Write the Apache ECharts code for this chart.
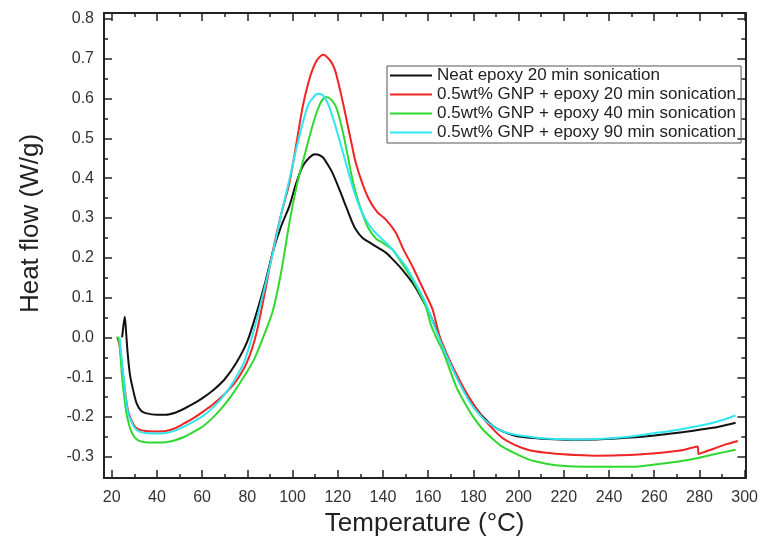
<!DOCTYPE html>
<html>
<head>
<meta charset="utf-8">
<script src="https://cdn.jsdelivr.net/npm/echarts@6/dist/echarts.min.js"></script>
<style>
html,body{margin:0;padding:0;background:#fff;}
#chart{width:761px;height:542px;}
</style>
</head>
<body>
<div id="chart"></div>
<script>
// ---- data ----
const seriesNames = [
  'Neat epoxy 20 min sonication',
  '0.5wt% GNP + epoxy 20 min sonication',
  '0.5wt% GNP + epoxy 40 min sonication',
  '0.5wt% GNP + epoxy 90 min sonication'
];
const xTicks = [20,40,60,80,100,120,140,160,180,200,220,240,260,280,300];
const yTicks = [-0.3,-0.2,-0.1,0.0,0.1,0.2,0.3,0.4,0.5,0.6,0.7,0.8];

const neat20 = [[24.6,0.0],[25.2,0.03],[25.8,0.052],[26.3,0.02],[27.0,-0.035],[28.0,-0.09],[29.2,-0.125],[31.0,-0.165],[33.0,-0.184],[35.0,-0.19],[40.0,-0.194],[44.0,-0.194],[48.0,-0.189],[52.0,-0.179],[56.0,-0.167],[60.0,-0.153],[65.0,-0.132],[70.0,-0.105],[75.0,-0.065],[80.0,-0.01],[84.0,0.06],[88.0,0.14],[91.2,0.213],[95.0,0.28],[98.6,0.33],[101.5,0.385],[104.5,0.43],[107.5,0.452],[110.0,0.46],[111.5,0.459],[113.5,0.452],[115.5,0.435],[117.6,0.414],[120.5,0.375],[123.6,0.33],[126.0,0.295],[128.0,0.271],[131.0,0.25],[135.4,0.234],[141.3,0.213],[144.0,0.198],[147.2,0.179],[150.0,0.16],[153.0,0.138],[156.5,0.105],[160.4,0.063],[165.0,0.0],[169.0,-0.055],[172.3,-0.095],[176.0,-0.135],[179.6,-0.165],[184.0,-0.198],[188.8,-0.223],[193.0,-0.236],[198.0,-0.246],[205.0,-0.252],[212.7,-0.255],[222.0,-0.257],[234.7,-0.256],[245.0,-0.253],[253.0,-0.25],[262.0,-0.245],[271.4,-0.239],[280.0,-0.232],[286.0,-0.227],[291.0,-0.221],[296.0,-0.214]];

const gnp20 = [[22.5,0.0],[23.5,-0.02],[24.5,-0.07],[25.5,-0.113],[26.5,-0.16],[27.5,-0.19],[28.5,-0.205],[30.0,-0.222],[32.0,-0.231],[35.0,-0.235],[40.0,-0.236],[44.0,-0.235],[48.0,-0.228],[52.0,-0.216],[56.0,-0.203],[60.0,-0.188],[65.0,-0.167],[70.0,-0.142],[75.0,-0.11],[80.0,-0.06],[84.0,0.01],[88.0,0.12],[91.2,0.215],[95.0,0.31],[98.6,0.388],[101.5,0.48],[104.5,0.58],[107.0,0.64],[109.0,0.675],[111.0,0.698],[113.7,0.71],[116.0,0.7],[117.8,0.685],[119.2,0.664],[121.5,0.61],[123.6,0.555],[126.0,0.49],[128.0,0.438],[131.0,0.385],[133.9,0.346],[137.5,0.315],[141.3,0.296],[145.7,0.263],[149.0,0.222],[153.0,0.179],[157.5,0.125],[161.9,0.071],[165.0,0.004],[168.5,-0.045],[172.3,-0.09],[176.0,-0.13],[179.6,-0.164],[184.0,-0.2],[188.8,-0.231],[193.0,-0.253],[198.0,-0.269],[203.0,-0.28],[207.2,-0.286],[216.3,-0.292],[225.0,-0.295],[234.7,-0.297],[245.0,-0.296],[253.0,-0.294],[262.0,-0.29],[271.4,-0.284],[276.7,-0.277],[279.2,-0.274],[279.6,-0.293],[281.0,-0.29],[284.0,-0.284],[288.0,-0.276],[292.0,-0.268],[297.0,-0.26]];

const gnp40 = [[22.1,0.0],[23.0,0.0],[23.8,-0.04],[24.6,-0.1],[25.5,-0.147],[26.5,-0.19],[27.5,-0.215],[28.3,-0.231],[30.0,-0.25],[32.0,-0.259],[35.0,-0.263],[40.0,-0.264],[44.0,-0.263],[48.0,-0.258],[52.0,-0.25],[56.0,-0.238],[60.4,-0.223],[65.0,-0.2],[69.5,-0.172],[74.0,-0.138],[78.7,-0.097],[83.0,-0.055],[87.0,0.0],[91.2,0.065],[95.0,0.165],[98.6,0.288],[102.0,0.385],[106.0,0.472],[109.0,0.535],[111.1,0.572],[113.0,0.595],[115.0,0.604],[117.0,0.598],[119.2,0.58],[121.5,0.535],[123.6,0.48],[126.0,0.41],[128.0,0.363],[131.0,0.31],[133.9,0.271],[137.0,0.248],[139.8,0.238],[144.2,0.221],[148.5,0.185],[153.0,0.146],[158.9,0.079],[161.3,0.03],[164.0,-0.005],[166.8,-0.038],[169.5,-0.08],[172.3,-0.122],[176.0,-0.163],[179.6,-0.197],[184.0,-0.23],[188.8,-0.256],[193.0,-0.275],[198.0,-0.29],[203.0,-0.303],[207.2,-0.311],[216.3,-0.321],[225.0,-0.324],[234.7,-0.325],[245.0,-0.325],[253.0,-0.324],[262.0,-0.318],[271.4,-0.311],[280.0,-0.302],[286.0,-0.294],[291.0,-0.288],[296.0,-0.282]];

const gnp90 = [[23.5,0.0],[24.2,-0.04],[25.0,-0.085],[25.5,-0.113],[26.5,-0.165],[27.5,-0.195],[28.3,-0.206],[30.0,-0.226],[32.0,-0.236],[35.0,-0.24],[40.0,-0.241],[44.0,-0.24],[48.0,-0.234],[52.0,-0.224],[56.0,-0.212],[60.4,-0.197],[65.0,-0.175],[69.5,-0.147],[74.0,-0.11],[78.7,-0.06],[83.0,0.02],[87.0,0.11],[91.2,0.21],[95.0,0.31],[98.6,0.396],[101.5,0.47],[104.5,0.539],[107.0,0.585],[108.9,0.601],[111.0,0.612],[113.0,0.61],[114.5,0.6],[116.2,0.58],[118.5,0.54],[120.7,0.497],[123.5,0.44],[126.5,0.38],[129.5,0.33],[132.4,0.296],[135.5,0.27],[138.3,0.254],[141.0,0.24],[144.2,0.221],[147.2,0.2],[150.1,0.179],[154.5,0.135],[158.9,0.087],[162.0,0.04],[165.0,-0.004],[168.5,-0.05],[172.3,-0.097],[176.0,-0.138],[179.6,-0.172],[184.0,-0.202],[188.8,-0.223],[193.0,-0.236],[198.0,-0.244],[207.0,-0.251],[216.3,-0.255],[225.0,-0.256],[234.7,-0.255],[245.0,-0.251],[253.0,-0.246],[262.0,-0.239],[271.4,-0.231],[280.0,-0.222],[286.0,-0.214],[291.0,-0.206],[296.0,-0.196]];

// ---- layout / style ----
const colors = ['#111111', '#f02424', '#2fd82f', '#2fe6ee'];
const seriesData = [neat20, gnp20, gnp40, gnp90];
const xMin = 16.6, xMax = 300.3, yMin = -0.353, yMax = 0.815;
const xMinor = xTicks.slice(0, -1).map(v => v + 10);
const yMinor = yTicks.slice(0, -1).map(v => Math.round((v + 0.05) * 100) / 100);
const FONT = '"Liberation Sans", Arial, sans-serif';
const frame = '#222';
const lineIcon = 'path://M0,0L0.01,0L0.01,0.01L0,0.01Z M0,6.5L42,6.5L42,8.5L0,8.5Z M0,14.99L0.01,14.99L0.01,15L0,15Z';

function xAx(pos, vals, len, showLine, showLabel) {
  return {
    type: 'value', min: xMin, max: xMax, position: pos,
    axisLine: {show: showLine, onZero: false, lineStyle: {color: frame, width: 2}},
    axisTick: {show: true, inside: true, length: len, customValues: vals, lineStyle: {color: frame, width: 1.5}},
    axisLabel: showLabel ? {customValues: vals, margin: 12, fontSize: 16, color: '#333', fontFamily: FONT} : {show: false},
    splitLine: {show: false},
    name: showLabel ? 'Temperature (°C)' : '',
    nameLocation: 'middle', nameGap: 33,
    nameTextStyle: {fontSize: 26, color: '#222', fontFamily: FONT}
  };
}
function yAx(pos, vals, len, showLine, showLabel) {
  return {
    type: 'value', min: yMin, max: yMax, position: pos,
    axisLine: {show: showLine, onZero: false, lineStyle: {color: frame, width: 2}},
    axisTick: {show: true, inside: true, length: len, customValues: vals, lineStyle: {color: frame, width: 1.5}},
    axisLabel: showLabel ? {customValues: vals, margin: 10, fontSize: 16, color: '#333', fontFamily: FONT,
      formatter: v => v.toFixed(1)} : {show: false},
    splitLine: {show: false},
    name: showLabel ? 'Heat flow (W/g)' : '',
    nameLocation: 'middle', nameGap: 60, nameRotate: 90,
    nameTextStyle: {fontSize: 26, color: '#222', fontFamily: FONT, padding: [0, 0, 0, 44]}
  };
}

const chart = echarts.init(document.getElementById('chart'), null, {renderer: 'canvas'});
chart.setOption({
  backgroundColor: '#fff',
  animation: false,
  grid: {left: 104, right: 14, top: 13, bottom: 63},
  xAxis: [
    xAx('bottom', xTicks, 8, true, true),
    xAx('bottom', xMinor, 4, false, false),
    xAx('top', xTicks, 8, true, false),
    xAx('top', xMinor, 4, false, false)
  ],
  yAxis: [
    yAx('left', yTicks, 8, true, true),
    yAx('left', yMinor, 4, false, false),
    yAx('right', yTicks, 8, true, false),
    yAx('right', yMinor, 4, false, false)
  ],
  legend: {
    orient: 'vertical', left: 387, top: 66,
    itemWidth: 42, itemHeight: 15, itemGap: 2,
    icon: lineIcon,
    padding: [1, 5, 2, 3],
    borderColor: '#555', borderWidth: 1,
    textStyle: {fontSize: 17, color: '#222', fontFamily: FONT, lineHeight: 15},
    data: seriesNames
  },
  series: seriesNames.map((name, i) => ({
    name: name, type: 'line', xAxisIndex: 0, yAxisIndex: 0,
    data: seriesData[i], symbol: 'none', smooth: 0.25,
    lineStyle: {color: colors[i], width: 2},
    itemStyle: {color: colors[i]},
    z: 3 + i
  }))
});
</script>
</body>
</html>
